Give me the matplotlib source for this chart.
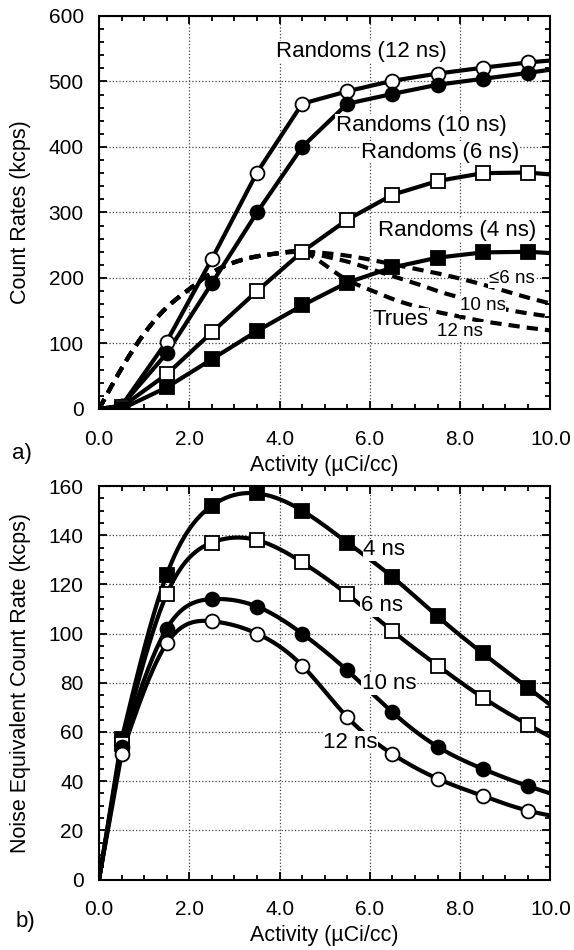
import numpy as np
import matplotlib
matplotlib.use("Agg")
import matplotlib.pyplot as plt
from matplotlib.ticker import MultipleLocator

plt.rcParams['font.family'] = ['Liberation Sans', 'DejaVu Sans']

# ---------------- dane: a) count rates (kcps) ----------------
act_pts = [0.0, 0.5, 1.5, 2.5, 3.5, 4.5, 5.5, 6.5, 7.5, 8.5, 9.5, 10.0]
rand_12ns = [0, 5, 103, 229, 361, 466, 485, 501, 512, 521, 529, 532]
rand_10ns = [0, 5, 85, 192, 300, 400, 466, 481, 495, 504, 513, 518]
rand_6ns = [0, 3, 53, 117, 180, 240, 289, 327, 348, 360, 361, 358]
rand_4ns = [0, 0, 33, 76, 119, 158, 193, 216, 231, 239, 240, 238]

trues_rise_x = [0.0, 0.5, 1.0, 1.5, 2.0, 2.5, 3.0, 3.5, 4.0, 4.5]
trues_rise = [0, 62, 115, 155, 183, 208, 224, 233, 238, 240]
trues_fall_x = [4.5, 5.0, 5.5, 6.0, 6.5, 7.0, 7.5, 8.0, 8.5, 9.0, 9.5, 10.0]
trues_6ns = [240, 238, 234, 228, 221, 214, 207, 199, 190, 180, 170, 161]
trues_10ns = [240, 233, 225, 214, 203, 192, 180, 170, 160, 152, 146, 141]
trues_12ns = [240, 220, 197, 182, 168, 157, 148, 141, 134, 129, 124, 120]

# ---------------- dane: b) NEC (kcps) ----------------
nec_4ns = [0, 57, 124, 152, 157, 150, 137, 123, 107, 92, 78, 71]
nec_6ns = [0, 55, 116, 137, 138, 129, 116, 101, 87, 74, 63, 58]
nec_10ns = [0, 54, 102, 114, 111, 100, 85, 68, 54, 45, 38, 35]
nec_12ns = [0, 51, 96, 105, 100, 87, 66, 51, 41, 34, 28, 26]

x_ticks = [0, 2, 4, 6, 8, 10]
x_ticklabels = ["0.0", "2.0", "4.0", "6.0", "8.0", "10.0"]


def natural_spline(x, y, n=400):
    # naturalny spline kubiczny - tylko do gladkiego rysowania krzywej
    x = np.asarray(x, float)
    y = np.asarray(y, float)
    k = len(x)
    h = np.diff(x)
    A = np.zeros((k, k))
    r = np.zeros(k)
    A[0, 0] = A[-1, -1] = 1
    for i in range(1, k - 1):
        A[i, i - 1] = h[i - 1]
        A[i, i] = 2 * (h[i - 1] + h[i])
        A[i, i + 1] = h[i]
        r[i] = 6 * ((y[i + 1] - y[i]) / h[i] - (y[i] - y[i - 1]) / h[i - 1])
    m = np.linalg.solve(A, r)
    xs = np.linspace(x[0], x[-1], n)
    j = np.clip(np.searchsorted(x, xs) - 1, 0, k - 2)
    t0 = x[j + 1] - xs
    t1 = xs - x[j]
    hj = h[j]
    ys = (m[j] * t0 ** 3 + m[j + 1] * t1 ** 3) / (6 * hj) \
        + (y[j] / hj - m[j] * hj / 6) * t0 + (y[j + 1] / hj - m[j + 1] * hj / 6) * t1
    return xs, ys


def style_axes(ax, ymax, ymajor, yminor):
    ax.set_xlim(0, 10)
    ax.set_ylim(0, ymax)
    ax.set_xticks(x_ticks)
    ax.set_xticklabels(x_ticklabels)
    ax.xaxis.set_minor_locator(MultipleLocator(0.5))
    ax.yaxis.set_major_locator(MultipleLocator(ymajor))
    ax.yaxis.set_minor_locator(MultipleLocator(yminor))
    ax.tick_params(which="both", direction="in", top=True, right=True, width=1.3)
    ax.tick_params(which="major", length=6)
    ax.tick_params(which="minor", length=3.6)
    ax.tick_params(axis="x", which="major", pad=15, labelsize=15)
    ax.tick_params(axis="y", which="major", pad=11, labelsize=15)
    ax.grid(True, which="major", linestyle=":", color="#444444", lw=0.9)
    ax.set_axisbelow(True)
    for s in ax.spines.values():
        s.set_linewidth(1.5)
    ax.set_xlabel("Activity (µCi/cc)", fontsize=15.5)
    ax.xaxis.set_label_coords(0.5, -0.116)


def lbl(ax, x, y, s, size=16):
    ax.text(x, y, s, fontsize=size, ha="center", va="center", zorder=3,
            bbox=dict(facecolor="white", edgecolor="none", pad=0.5))


fig = plt.figure(figsize=(5.74, 9.5), dpi=100)
ax1 = fig.add_axes([0.1725, 0.5695, 0.7865, 0.4137])
ax2 = fig.add_axes([0.1725, 0.0742, 0.7865, 0.4142])

mk = dict(markersize=10, markeredgecolor="black", markeredgewidth=1.3, linestyle="none", zorder=4)

# 1) count rates
series_a = [(rand_12ns, "o", "white"), (rand_10ns, "o", "black"),
            (rand_6ns, "s", "white"), (rand_4ns, "s", "black")]
for vals, m, fc in series_a:
    ax1.plot(act_pts, vals, color="black", lw=3, zorder=2, solid_joinstyle="round")
    ax1.plot(act_pts[1:-1], vals[1:-1], marker=m, markerfacecolor=fc, **mk)

for fall in (trues_6ns, trues_10ns, trues_12ns):
    xs, ys = natural_spline(trues_rise_x + trues_fall_x[1:], trues_rise + fall[1:])
    ax1.plot(xs, ys, color="black", lw=3, dashes=(2.7, 1.7), zorder=2)

style_axes(ax1, 600, 100, 20)
ax1.set_ylabel("Count Rates (kcps)", fontsize=15.5)
ax1.yaxis.set_label_coords(-0.15, 0.5)

lbl(ax1, 5.81, 545, "Randoms (12 ns)")
lbl(ax1, 7.13, 433, "Randoms (10 ns)")
lbl(ax1, 7.55, 392, "Randoms (6 ns)")
lbl(ax1, 7.93, 273, "Randoms (4 ns)")
lbl(ax1, 6.67, 137, "Trues")
lbl(ax1, 9.15, 199, "≤6 ns", 13.5)
lbl(ax1, 8.5, 158, "10 ns", 13.5)
lbl(ax1, 8.0, 119, "12 ns", 13.5)
fig.text(22 / 574, 1 - 453 / 950, "a)", fontsize=16, ha="center", va="center")

# 2) NEC
series_b = [(nec_4ns, "s", "black"), (nec_6ns, "s", "white"),
            (nec_10ns, "o", "black"), (nec_12ns, "o", "white")]
for vals, m, fc in series_b:
    xs, ys = natural_spline(act_pts[1:], vals[1:])
    ax2.plot([act_pts[0]] + list(xs), [vals[0]] + list(ys), color="black", lw=3,
             zorder=2, solid_joinstyle="round")
    ax2.plot(act_pts[1:-1], vals[1:-1], marker=m, markerfacecolor=fc, **mk)

style_axes(ax2, 160, 20, 5)
ax2.set_ylabel("Noise Equivalent Count Rate (kcps)", fontsize=15.5)
ax2.yaxis.set_label_coords(-0.15, 0.5)

lbl(ax2, 6.32, 134, "4 ns")
lbl(ax2, 6.27, 111.4, "6 ns")
lbl(ax2, 6.42, 79.7, "10 ns")
lbl(ax2, 5.57, 55.8, "12 ns")
fig.text(25 / 574, 1 - 922 / 950, "b)", fontsize=16, ha="center", va="center")

fig.savefig("out.png", dpi=100)
plt.close(fig)
